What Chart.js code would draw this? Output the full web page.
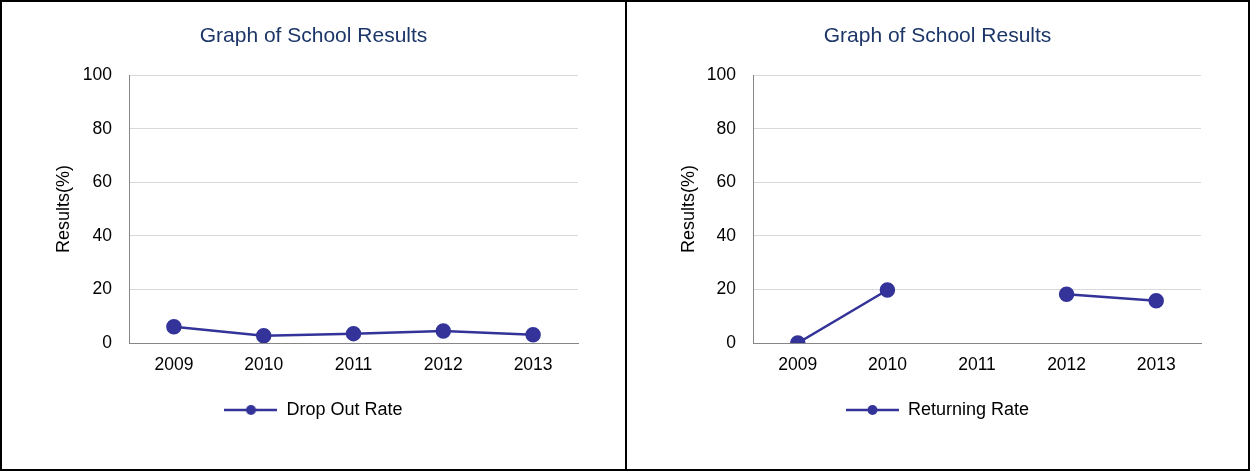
<!DOCTYPE html>
<html>
<head>
<meta charset="utf-8">
<script src="https://cdn.jsdelivr.net/npm/chart.js@4/dist/chart.umd.min.js"></script>
<style>
  body { margin: 0; background: #fff; }
  .box { position: absolute; top: 0; height: 471px; border: 2px solid #000; box-sizing: border-box; }
  .box div { position: relative; width: 100%; height: 100%; }
</style>
</head>
<body>
<div class="box" style="left:0;width:627px;"><div><canvas id="left-chart"></canvas></div></div>
<div class="box" style="left:625px;width:625px;"><div><canvas id="right-chart"></canvas></div></div>
<script>
// school results
var years = ['2009', '2010', '2011', '2012', '2013'];
var dropOutRate = [6.1, 2.7, 3.5, 4.5, 3.1];
var returningRate = [0, 19.8, null, 18.2, 15.8]; // no value for 2011
var yTicks = [0, 20, 40, 60, 80, 100];

var lineColor = '#333399';
var font = "'Liberation Sans', Arial, sans-serif";

// legend marker: short line with a dot on it
var marker = document.createElement('canvas');
marker.width = 53;
marker.height = 16;
var mctx = marker.getContext('2d');
mctx.strokeStyle = lineColor;
mctx.lineWidth = 2.5;
mctx.beginPath();
mctx.moveTo(0, 8);
mctx.lineTo(53, 8);
mctx.stroke();
mctx.fillStyle = lineColor;
mctx.beginPath();
mctx.arc(26.5, 8, 5, 0, Math.PI * 2);
mctx.fill();

function makeChart(id, label, values, plotLeft) {
  var ctx = document.getElementById(id).getContext('2d');
  return new Chart(ctx, {
    type: 'line',
    data: {
      labels: years,
      datasets: [{
        label: label,
        data: values,
        borderColor: lineColor,
        backgroundColor: lineColor,
        borderWidth: 2.5,
        pointRadius: 7,
        pointBorderWidth: 1.5,
        pointHoverRadius: 8,
        spanGaps: false,
        fill: false,
        tension: 0
      }]
    },
    options: {
      responsive: true,
      maintainAspectRatio: false,
      animation: false,
      layout: { padding: { left: 47, right: 47, top: 0, bottom: 40 } },
      scales: {
        x: {
          offset: true,
          grid: { display: false, drawTicks: false },
          border: { display: true, color: '#868686', width: 1 },
          ticks: { color: '#000', padding: 12, font: { family: font, size: 17.5 } }
        },
        y: {
          min: 0,
          max: 100,
          afterBuildTicks: function (scale) {
            scale.ticks = yTicks.map(function (v) { return { value: v }; });
          },
          afterFit: function (scale) { scale.width = plotLeft - 47; },
          grid: { color: '#d9d9d9', drawTicks: false },
          border: { color: '#868686', width: 1 },
          ticks: { color: '#000', padding: 17, font: { family: font, size: 17.5 } },
          title: {
            display: true,
            text: 'Results(%)',
            color: '#000',
            font: { family: font, size: 18 }
          }
        }
      },
      plugins: {
        title: {
          display: true,
          text: 'Graph of School Results',
          color: '#1c3668',
          font: { family: font, size: 21, weight: 'normal' },
          padding: { top: 22, bottom: 26 }
        },
        legend: {
          position: 'bottom',
          labels: {
            usePointStyle: true,
            pointStyle: marker,
            pointStyleWidth: 53,
            padding: 13,
            color: '#000',
            font: { family: font, size: 18 }
          }
        },
        tooltip: { enabled: true }
      }
    }
  });
}

makeChart('left-chart', 'Drop Out Rate', dropOutRate, 127);
makeChart('right-chart', 'Returning Rate', returningRate, 126);
</script>
</body>
</html>
